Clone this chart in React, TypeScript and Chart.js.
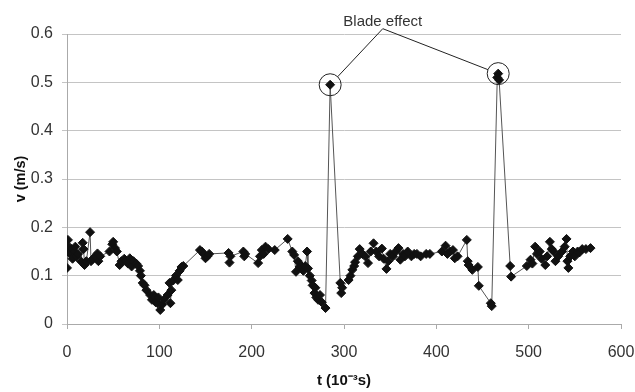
import React, { useEffect, useRef } from "react";
import { Chart, registerables } from "chart.js";

Chart.register(...registerables);

const timeMs: number[] = [
  0, 0.5, 1, 2, 3, 5, 6, 8, 9, 10, 12, 15, 17, 18, 19, 21, 25, 26, 28, 31, 33, 34, 36, 46, 49, 50, 52, 54, 57, 59,
  62, 64, 66, 68, 70, 72, 75, 77, 79, 80, 82, 84, 86, 90, 92, 94, 95, 96, 98, 99, 101, 103, 105, 109, 111, 112, 113, 115, 118, 120,
  122, 124, 126, 144, 146, 148, 150, 152, 154, 175, 176, 177, 191, 192, 193, 207, 209, 211, 213, 215, 218, 225, 239, 244, 246, 248, 250, 252, 254, 256,
  258, 260, 261, 263, 265, 266, 268, 269, 270, 272, 274, 276, 280, 285, 296, 297, 298, 305, 307, 309, 311, 312, 315, 317, 320, 323, 326, 329, 332, 335,
  338, 341, 343, 346, 348, 350, 353, 356, 359, 361, 364, 366, 369, 373, 376, 379, 383, 389, 393, 406, 410, 412, 415, 418, 420, 423, 433, 434, 435, 439,
  445, 446, 459, 460, 466, 467, 468, 480, 481, 498, 502, 504, 507, 509, 512, 514, 518, 520, 523, 525, 527, 529, 532, 536, 539, 541, 542, 543, 545, 548,
  550, 553, 555, 558, 562, 567,
];

const velocity: number[] = [
  0.116, 0.15, 0.174, 0.16, 0.146, 0.155, 0.135, 0.15, 0.16, 0.14, 0.145, 0.13, 0.168, 0.155, 0.122, 0.13, 0.19, 0.13, 0.135, 0.14, 0.146, 0.13, 0.14, 0.15, 0.165, 0.17, 0.157, 0.15, 0.122, 0.13,
  0.135, 0.13, 0.125, 0.136, 0.119, 0.13, 0.125, 0.12, 0.11, 0.1, 0.085, 0.08, 0.07, 0.06, 0.05, 0.06, 0.056, 0.045, 0.043, 0.055, 0.029, 0.04, 0.05, 0.06, 0.085, 0.043, 0.07, 0.09, 0.1, 0.091,
  0.11, 0.118, 0.12, 0.153, 0.15, 0.145, 0.136, 0.14, 0.145, 0.147, 0.127, 0.14, 0.15, 0.14, 0.145, 0.126, 0.14, 0.153, 0.145, 0.16, 0.155, 0.153, 0.176, 0.15, 0.143, 0.108, 0.13, 0.118, 0.12, 0.11,
  0.12, 0.15, 0.115, 0.1, 0.09, 0.08, 0.064, 0.075, 0.055, 0.05, 0.06, 0.045, 0.033, 0.495, 0.085, 0.064, 0.075, 0.091, 0.1, 0.112, 0.12, 0.128, 0.14, 0.155, 0.145, 0.14, 0.126, 0.15, 0.167, 0.15,
  0.14, 0.156, 0.135, 0.114, 0.13, 0.145, 0.14, 0.15, 0.157, 0.133, 0.145, 0.14, 0.15, 0.14, 0.145, 0.145, 0.14, 0.145, 0.145, 0.15, 0.162, 0.145, 0.15, 0.153, 0.136, 0.14, 0.174, 0.13, 0.122, 0.112,
  0.118, 0.079, 0.043, 0.037, 0.51, 0.518, 0.505, 0.12, 0.098, 0.12, 0.133, 0.125, 0.16, 0.145, 0.15, 0.135, 0.122, 0.14, 0.17, 0.155, 0.15, 0.13, 0.14, 0.15, 0.16, 0.176, 0.13, 0.116, 0.14, 0.15,
  0.14, 0.15, 0.148, 0.155, 0.155, 0.157,
];

const xTitle = "t (10⁻³s)";
const yTitle = "v (m/s)";
const annotationText = "Blade effect";
// annotation label anchor in data coordinates
const labelT = 342;
const labelV = 0.625;
const anchorV = 0.611;
// peaks highlighted by circles (time of the peak points)
const peakTimes: number[] = [285, 467];

const FONT = "'Liberation Sans', Arial, sans-serif";

const bladePlugin = {
  id: "bladeEffect",
  afterDatasetsDraw(chart: any) {
    const ctx = chart.ctx as CanvasRenderingContext2D;
    const xs = chart.scales.x;
    const ys = chart.scales.y;
    const ax = xs.getPixelForValue(labelT);
    const ay = ys.getPixelForValue(anchorV);
    const r = 11;
    ctx.save();
    ctx.strokeStyle = "#222";
    ctx.lineWidth = 1;
    peakTimes.forEach((pt) => {
      const i = timeMs.indexOf(pt);
      const cx = xs.getPixelForValue(timeMs[i]);
      const cy = ys.getPixelForValue(velocity[i]);
      ctx.beginPath();
      ctx.arc(cx, cy, r, 0, Math.PI * 2);
      ctx.stroke();
      const dx = ax - cx;
      const dy = ay - cy;
      const d = Math.sqrt(dx * dx + dy * dy);
      ctx.beginPath();
      ctx.moveTo(ax, ay);
      ctx.lineTo(cx + (dx / d) * r, cy + (dy / d) * r);
      ctx.stroke();
    });
    ctx.fillStyle = "#333";
    ctx.font = `15px ${FONT}`;
    ctx.textAlign = "center";
    ctx.textBaseline = "middle";
    ctx.fillText(annotationText, ax, ys.getPixelForValue(labelV));
    ctx.restore();
  },
};

export default function App() {
  const ref = useRef<HTMLCanvasElement | null>(null);
  useEffect(() => {
    document.body.style.margin = "0";
    if (!ref.current) return;
    const chart = new Chart(ref.current, {
      type: "scatter",
      data: {
        datasets: [
          {
            data: timeMs.map((t, i) => ({ x: t, y: velocity[i] })),
            showLine: true,
            borderColor: "#555",
            borderWidth: 1,
            pointStyle: "rectRot",
            pointRadius: 4.5,
            pointBackgroundColor: "#111",
            pointBorderColor: "#111",
            pointBorderWidth: 1,
          },
        ],
      },
      options: {
        animation: false,
        responsive: false,
        maintainAspectRatio: false,
        layout: { padding: { top: 34, right: 14, left: 0, bottom: 0 } },
        plugins: { legend: { display: false }, tooltip: { enabled: false } },
        scales: {
          x: {
            type: "linear",
            min: 0,
            max: 600,
            ticks: { stepSize: 100, color: "#333", font: { family: FONT, size: 16 }, padding: 14 },
            grid: { drawOnChartArea: false, drawTicks: true, tickLength: 5, color: "#aaa" },
            border: { color: "#aaa" },
            title: { display: true, text: xTitle, color: "#111", font: { family: FONT, size: 15, weight: "bold" }, padding: { top: 0, bottom: 2 } },
            afterFit: (s: any) => { s.height = 68; s.paddingLeft = 0; s.paddingRight = 0; },
          },
          y: {
            min: 0,
            max: 0.6,
            ticks: { stepSize: 0.1, color: "#333", font: { family: FONT, size: 16 }, padding: 9 },
            grid: { color: "#c4c4c4", tickLength: 5 },
            border: { color: "#aaa" },
            title: { display: true, text: yTitle, color: "#111", font: { family: FONT, size: 14.5, weight: "bold" }, padding: { top: 12, bottom: 0 } },
            afterFit: (s: any) => { s.width = 67; s.paddingTop = 0; s.paddingBottom = 0; },
          },
        },
      },
      plugins: [bladePlugin],
    });
    return () => chart.destroy();
  }, []);
  return (
    <div style={{ width: 635, height: 392 }}>
      <canvas ref={ref} width={635} height={392} style={{ display: "block" }} />
    </div>
  );
}
